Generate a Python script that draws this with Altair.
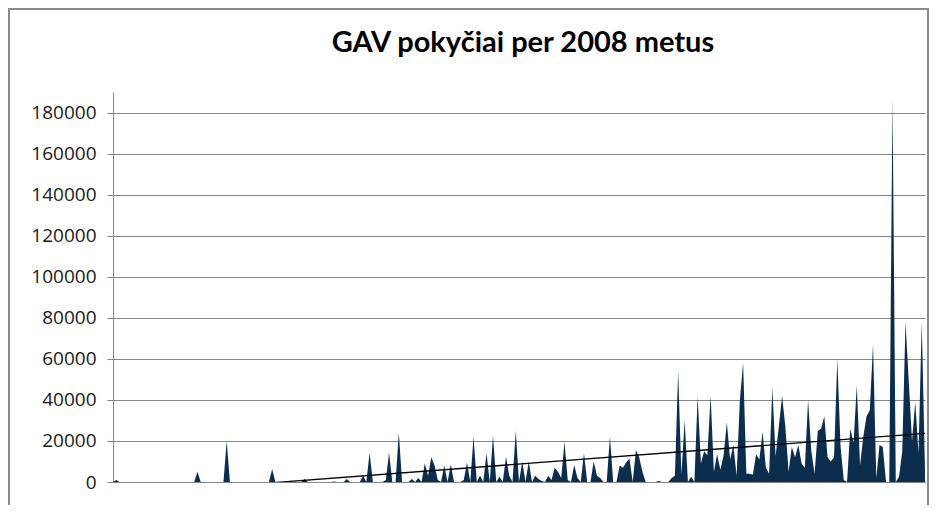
import altair as alt
import pandas as pd

title_text = "GAV pokyčiai per 2008 metus"

values = [
    0, 1000, 0, 0, 0, 0, 0, 0, 0, 0,
    0, 0, 0, 0, 0, 0, 0, 0, 0, 0,
    0, 0, 0, 0, 0, 0, 5000, 0, 0, 0,
    0, 0, 0, 0, 0, 20000, 0, 0, 0, 0,
    0, 0, 0, 0, 0, 0, 0, 0, 0, 6300,
    0, 0, 0, 0, 0, 0, 0, 0, 0, 1500,
    0, 0, 0, 0, 0, 0, 0, 0, 300, 0,
    0, 0, 1500, 0, 0, 0, 0, 3000, 0, 14300,
    0, 0, 0, 0, 1000, 14300, 0, 0, 24000, 0,
    0, 0, 1500, 0, 2000, 0, 9000, 3000, 12000, 8000,
    1000, 0, 8000, 0, 8500, 0, 0, 0, 1000, 9500,
    0, 22000, 0, 3000, 0, 14000, 0, 22500, 0, 2500,
    0, 12300, 3000, 0, 25000, 0, 10000, 0, 10000, 0,
    3000, 1500, 500, 0, 3000, 1000, 7000, 5000, 2000, 19500,
    1000, 0, 8300, 2000, 0, 14000, 0, 0, 10000, 3000,
    2000, 0, 0, 22000, 0, 0, 8000, 7000, 9500, 11500,
    0, 15500, 12000, 5000, 0, 0, 0, 0, 500, 0,
    0, 0, 2000, 3000, 54000, 3500, 30000, 0, 2500, 0,
    41600, 9000, 15000, 13000, 42000, 5000, 13500, 6000, 13000, 29000,
    11000, 18000, 3000, 40000, 58000, 4000, 4000, 3500, 13500, 11000,
    24500, 7000, 4000, 46000, 12500, 27000, 42000, 27000, 5000, 17000,
    12000, 18000, 9000, 7000, 40000, 15000, 4000, 25000, 26000, 32000,
    12000, 10000, 12000, 60000, 17000, 1000, 0, 26000, 19000, 47000,
    8000, 22000, 32000, 35000, 67000, 2000, 18000, 17000, 0, 0,
    187000, 0, 2500, 15000, 78000, 49000, 20000, 39000, 14000, 78000,
    5000,
]

y_ticks = [0, 20000, 40000, 60000, 80000, 100000, 120000, 140000, 160000, 180000]
y_max = 190000

df = pd.DataFrame({"i": list(range(len(values))), "v": values})

W, H = 812, 390
GRID = "#868686"

x_enc = alt.X(
    "i:Q",
    scale=alt.Scale(domain=[0, len(values) - 1], nice=False, zero=False),
    axis=alt.Axis(labels=False, ticks=False, grid=False, title=None,
                  domainColor=GRID, domainWidth=1),
)
y_enc = alt.Y(
    "v:Q",
    scale=alt.Scale(domain=[0, y_max], nice=False),
    axis=alt.Axis(values=y_ticks, format="d", title=None, grid=True,
                  gridColor=GRID, gridWidth=1, tickColor=GRID, tickSize=6,
                  labelPadding=11, labelFont="Open Sans", labelFontSize=19,
                  labelColor="#1a1a1a", domainColor=GRID, domainWidth=1),
)

base = alt.Chart(df)

area = base.mark_area(color="#0c2e4e", interpolate="linear").encode(x=x_enc, y=y_enc)

trend = (
    base.transform_regression("i", "v")
    .mark_line(color="black", strokeWidth=1.3, clip=True)
    .encode(x="i:Q", y="v:Q")
)

title = (
    alt.Chart(pd.DataFrame({"t": [title_text]}))
    .mark_text(font="Lato", fontSize=29, fontWeight="bold", color="black",
               align="center", baseline="alphabetic")
    .encode(text="t:N", x=alt.value(W / 2 + 4), y=alt.value(-40))
)

frame = (
    alt.Chart(pd.DataFrame({"a": [0]}))
    .mark_rect(fill="white", fillOpacity=0, stroke="#8a8a8a", strokeWidth=2)
    .encode(x=alt.value(-104), x2=alt.value(W + 3), y=alt.value(-83), y2=alt.value(H + 60))
)

chart = (
    alt.layer(area, trend, title, frame)
    .properties(
        width=W,
        height=H,
        autosize=alt.AutoSizeParams(type="none"),
        padding={"left": 105, "top": 84, "right": 4, "bottom": 23},
    )
    .configure_view(stroke=None)
)

chart.save("out.html", embed_options={"renderer": "svg", "actions": False})
